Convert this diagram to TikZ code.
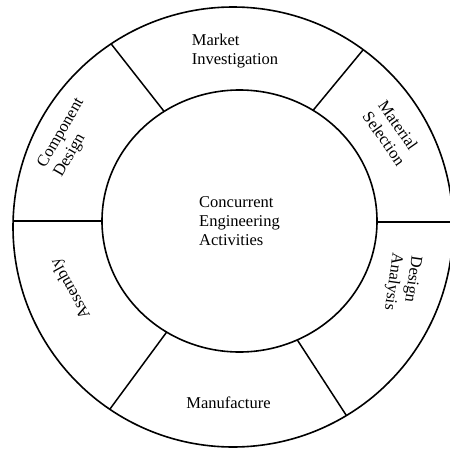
\documentclass[tikz,border=0pt]{standalone}
\usepackage{fontspec}
\setmainfont{Liberation Serif}
\begin{document}
\begin{tikzpicture}[x=1pt,y=-1pt,
  ring/.style={line width=1.6pt},
  divider/.style={line width=1.5pt},
  lbl/.style={align=left,inner sep=0pt,font=\fontsize{16.5}{19}\selectfont}]
\useasboundingbox (0,0) rectangle (450,450);
\clip (0,0) rectangle (450,450);
\coordinate (oc) at (233,227);
\coordinate (ic) at (239.5,221);
% dividers, clipped to the outer circle
\begin{scope}
  \clip (oc) circle[radius=220];
  \coordinate (tlA) at (175.3,125.7); \coordinate (tlB) at (99.7,29.3);
  \coordinate (trA) at (302.3,123.4); \coordinate (trB) at (375.7,34.6);
  \coordinate (lA) at (120,221);      \coordinate (lB) at (0,221);
  \coordinate (rA) at (360,222);      \coordinate (rB) at (460,222);
  \coordinate (blA) at (174.9,320.9); \coordinate (blB) at (98.1,425.1);
  \coordinate (brA) at (287.1,324.2); \coordinate (brB) at (358.9,434.8);
  \draw[divider] (tlA) -- (tlB);
  \draw[divider] (trA) -- (trB);
  \draw[divider] (lA) -- (lB);
  \draw[divider] (rA) -- (rB);
  \draw[divider] (blA) -- (blB);
  \draw[divider] (brA) -- (brB);
\end{scope}
\draw[ring,fill=white] (ic) ellipse[x radius=137.5,y radius=131];
\draw[ring] (oc) circle[radius=220];
% labels
\node[lbl] (center) at (239.5,221.5) {Concurrent\\Engineering\\Activities};
\node[lbl] (market) at (235,51.5) {Market\\Investigation};
\node[lbl,rotate=-55] (material) at (392,133) {Material\\Selection};
\node[lbl,rotate=-98] (analysis) at (402,283) {Design\\Analysis};
\node[lbl] (manuf) at (228.5,403) {Manufacture};
\node[lbl,rotate=119] (assembly) at (71,288.5) {Assembly};
\node[lbl,rotate=60] (component) at (69.5,138) {Component\\Design};
\end{tikzpicture}
\end{document}
